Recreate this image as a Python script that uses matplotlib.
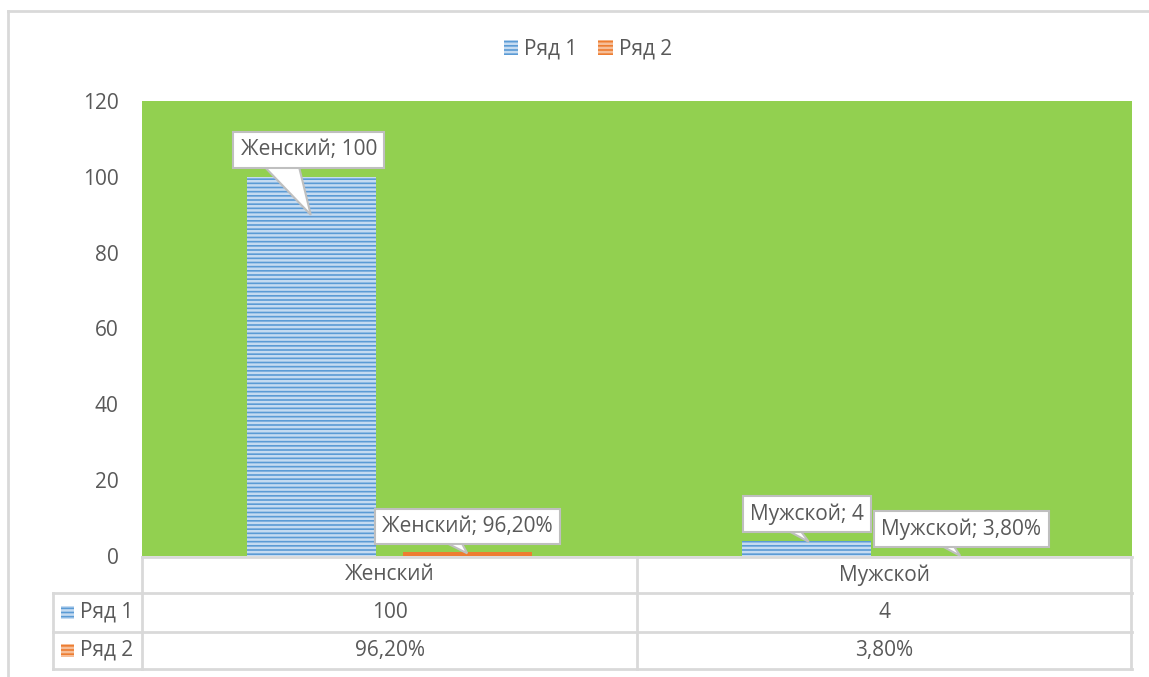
# Столбчатая диаграмма: Ряд 1 / Ряд 2 по полу, с таблицей данных внизу
import matplotlib
matplotlib.use('Agg')
import matplotlib.pyplot as plt
from matplotlib.patches import Rectangle, Polygon
from matplotlib.lines import Line2D
from matplotlib.transforms import IdentityTransform

plt.rcParams['font.family'] = ['Open Sans', 'DejaVu Sans']

categories = ['Женский', 'Мужской']
series_names = ['Ряд 1', 'Ряд 2']
ryad1 = [100, 4]
ryad2 = [0.962, 0.038]          # доли, подписи в процентах
yticks = [0, 20, 40, 60, 80, 100, 120]

blue = '#5B9BD5'
blue_hatch = '#C5DBF1'
orange = '#ED7D31'
orange_hatch = '#F6BE98'
green = '#92D050'
grey_txt = '#595959'
line_c = '#D9D9D9'
box_ec = '#BFBFBF'
fs = 15


def pct(v):
    return f'{v * 100:.2f}%'.replace('.', ',')


fig = plt.figure(figsize=(11.49, 6.77), dpi=100)
W, H = 1149, 677
ax = fig.add_axes([142 / W, (H - 556) / H, 990 / W, 455 / H])
ax.set_facecolor(green)

plt.rcParams['hatch.linewidth'] = 1.8
x = list(range(len(categories)))
bw = 0.26
off = 0.157
b1 = ax.bar([i - off for i in x], ryad1, bw, color=blue, edgecolor=blue_hatch,
            linewidth=0, hatch='----', zorder=2)
b2 = ax.bar([i + off for i in x], ryad2, bw, color=orange, edgecolor=orange_hatch,
            linewidth=0, zorder=2)

ax.set_xlim(-0.5, 1.5)
ax.set_ylim(0, 120)
ax.set_yticks(yticks)
ax.set_xticks([])
ax.tick_params(axis='y', length=0, pad=17, labelsize=fs, labelcolor=grey_txt)
for s in ax.spines.values():
    s.set_visible(False)

# выноски с подписями: (столбец, текст, смещение рамки, острие, основание хвоста) в пикселях
labels1 = [f'{c}; {v}' for c, v in zip(categories, ryad1)]
labels2 = [f'{c}; {pct(v)}' for c, v in zip(categories, ryad2)]
callouts = [(b1[0], labels1[0], (-3, 27), (-1, -38), (-52, -14)),
            (b2[0], labels2[0], (0, 26), (0, -1), (-30, -8)),
            (b1[1], labels1[1], (0, 27), (2, -1), (-28, -10)),
            (b2[1], labels2[1], (-1, 27), (-2, 0), (-30, -12))]
for bar, txt, (dx, dy), (tx, ty), (s0, s1) in callouts:
    cx = bar.get_x() + bar.get_width() / 2
    px, py = ax.transData.transform((cx, bar.get_height()))
    ax.annotate(txt, xy=(px + dx, py + dy), xycoords='figure pixels',
                ha='center', va='center', fontsize=fs, color=grey_txt,
                bbox=dict(boxstyle='square,pad=0.35', fc='white', ec=box_ec, lw=1.5),
                zorder=6, annotation_clip=False)
    base_y = py + dy - 12
    tail = Polygon([(px + s0, base_y), (px + s1, base_y), (px + tx, py + ty)],
                   closed=True, fc='white', ec=box_ec, lw=1.5,
                   transform=IdentityTransform(), zorder=5, clip_on=False)
    ax.add_artist(tail)

# легенда сверху
handles = [Rectangle((0, 0), 1, 1, fc=blue, ec=blue_hatch, lw=0, hatch='----'),
           Rectangle((0, 0), 1, 1, fc=orange, ec=orange_hatch, lw=0, hatch='----')]
fig.legend(handles, series_names, loc='center', bbox_to_anchor=(588 / W, 1 - 49 / H),
           ncol=2, frameon=False, fontsize=fs, labelcolor=grey_txt,
           handlelength=0.7, handleheight=0.7, handletextpad=0.3, columnspacing=1.0)

# таблица данных
def fx(px):
    return px / W


def fy(py):
    return 1 - py / H


def hline(y, x0, x1):
    fig.add_artist(Line2D([fx(x0), fx(x1)], [fy(y), fy(y)], color=line_c, lw=2))


def vline(xp, y0, y1):
    fig.add_artist(Line2D([fx(xp), fx(xp)], [fy(y0), fy(y1)], color=line_c, lw=2))


hline(557, 142, 1132)
hline(593, 53, 1132)
hline(632, 53, 1132)
hline(669, 53, 1132)
for xp in (142, 637, 1131):
    vline(xp, 557, 669)
vline(53, 593, 669)

col_cx = [389.5, 884.5]
row_cy = [575, 612.5, 650.5]
for c, cx in zip(categories, col_cx):
    fig.text(fx(cx), fy(row_cy[0]), c, ha='center', va='center', fontsize=fs, color=grey_txt)
for cx, v in zip(col_cx, ryad1):
    fig.text(fx(cx), fy(row_cy[1]), str(v), ha='center', va='center', fontsize=fs, color=grey_txt)
for cx, v in zip(col_cx, ryad2):
    fig.text(fx(cx), fy(row_cy[2]), pct(v), ha='center', va='center', fontsize=fs, color=grey_txt)

for name, h, cy in zip(series_names, handles, row_cy[1:]):
    fig.add_artist(Rectangle((fx(61), fy(cy + 6)), 13 / W, 13 / H, fc=h.get_facecolor(),
                             ec=h.get_edgecolor(), lw=0, hatch='----', transform=fig.transFigure))
    fig.text(fx(80), fy(cy), name, ha='left', va='center', fontsize=fs, color=grey_txt)

# рамка диаграммы
hline(11, 8, 1149)
vline(8, 11, 677)

fig.savefig('out.png', dpi=100)
